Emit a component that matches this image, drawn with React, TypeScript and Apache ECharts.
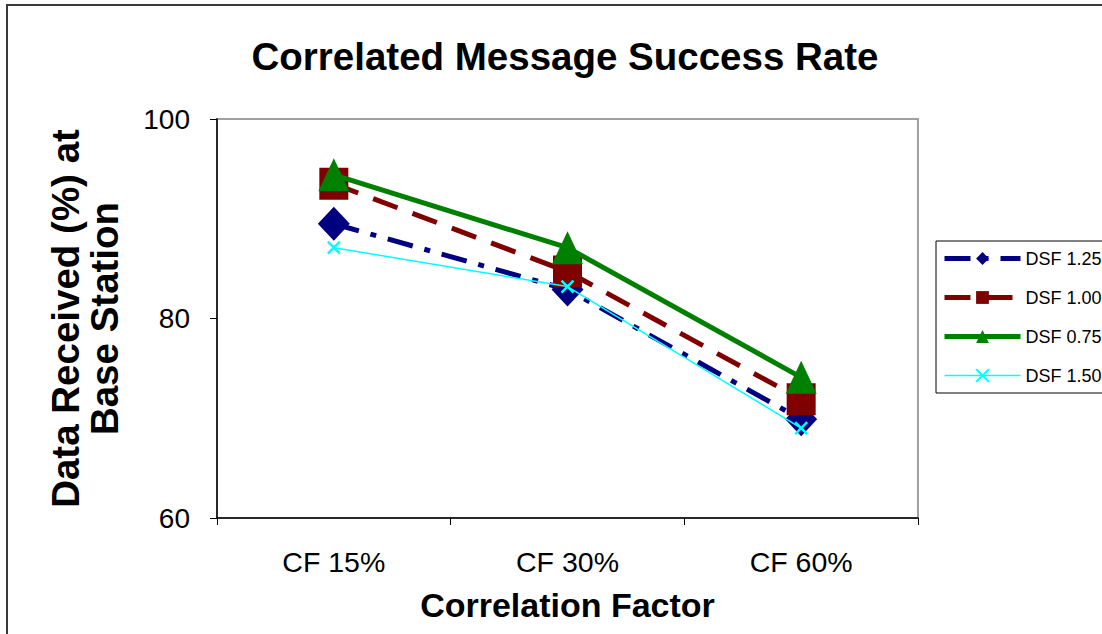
import React, { useEffect, useRef } from "react";
import * as echarts from "echarts";

const categories = ["CF 15%", "CF 30%", "CF 60%"];
const seriesNames = ["DSF 1.25", "DSF 1.00", "DSF 0.75", "DSF 1.50"];
const dsf125 = [89.5, 82.9, 69.9];
const dsf100 = [93.5, 84.7, 71.9];
const dsf075 = [94.4, 87.1, 74.1];
const dsf150 = [87.1, 83.2, 69.0];
const yTicks = { min: 60, max: 100, interval: 20 };

const FONT = "'Liberation Sans', Arial, sans-serif";

export default function App() {
  const ref = useRef<HTMLDivElement>(null);
  useEffect(() => {
    if (!ref.current) return;
    const chart = echarts.init(ref.current, undefined, { renderer: "svg" });
    const crossPath = "path://M0,0L10,10M10,0L0,10";
    const legendWidths = [5, 5, 5, 1.5];
    chart.setOption({
      animation: false,
      backgroundColor: "#ffffff",
      textStyle: { fontFamily: FONT },
      graphic: [
        {
          type: "rect",
          shape: { x: 7, y: 5, width: 1300, height: 800 },
          style: { fill: "none", stroke: "#3a3a3a", lineWidth: 2 },
          silent: true,
          z: -10,
        },
      ],
      title: {
        text: "Correlated Message Success Rate",
        left: 560,
        textAlign: "center",
        top: 32,
        textStyle: { fontSize: 38.5, fontWeight: "bold", color: "#000", fontFamily: FONT },
      },
      legend: {
        orient: "vertical",
        left: 936,
        top: 241,
        padding: [7, 60, 7, 6],
        itemWidth: 76,
        itemHeight: 16,
        itemGap: 18,
        borderColor: "#000",
        borderWidth: 1,
        backgroundColor: "#fff",
        data: seriesNames.map((n, i) => ({ name: n, lineStyle: { width: legendWidths[i] } })),
        textStyle: { fontSize: 18, color: "#000", lineHeight: 21, fontFamily: FONT },
      },
      grid: {
        left: 217,
        right: 184,
        top: 119,
        bottom: 116,
        show: true,
        borderColor: "#a0a0a0",
        borderWidth: 2,
        backgroundColor: "transparent",
      },
      xAxis: {
        type: "category",
        data: categories,
        boundaryGap: true,
        name: "Correlation Factor",
        nameLocation: "middle",
        nameGap: 70,
        nameTextStyle: { fontSize: 34, fontWeight: "bold", color: "#000", fontFamily: FONT },
        axisLine: { lineStyle: { color: "#000", width: 1.5 } },
        axisTick: { show: true, length: 7, alignWithLabel: false, lineStyle: { color: "#000" } },
        axisLabel: { fontSize: 28.5, color: "#000", margin: 29, fontFamily: FONT },
      },
      yAxis: {
        type: "value",
        min: yTicks.min,
        max: yTicks.max,
        interval: yTicks.interval,
        name: "Data Received (%) at\nBase Station",
        nameLocation: "middle",
        nameGap: 93,
        nameTextStyle: { fontSize: 38.5, fontWeight: "bold", color: "#000", lineHeight: 39, fontFamily: FONT },
        axisLine: { show: true, lineStyle: { color: "#000", width: 1.5 } },
        axisTick: { show: true, length: 7, lineStyle: { color: "#000" } },
        splitLine: { show: false },
        axisLabel: { fontSize: 28, color: "#000", margin: 27, fontFamily: FONT },
      },
      series: [
        {
          name: seriesNames[0],
          type: "line",
          data: dsf125,
          symbol: "diamond",
          symbolSize: [32, 34],
          itemStyle: { color: "#000080" },
          lineStyle: { color: "#000080", width: 5, type: [26, 12, 6, 12] },
          z: 2,
        },
        {
          name: seriesNames[1],
          type: "line",
          data: dsf100,
          symbol: "rect",
          symbolSize: [29, 32],
          itemStyle: { color: "#800000" },
          lineStyle: { color: "#800000", width: 5, type: [26, 16] },
          z: 3,
        },
        {
          name: seriesNames[2],
          type: "line",
          data: dsf075,
          symbol: "triangle",
          symbolSize: [31, 33],
          itemStyle: { color: "#008000" },
          lineStyle: { color: "#008000", width: 5 },
          z: 4,
        },
        {
          name: seriesNames[3],
          type: "line",
          data: dsf150,
          symbol: crossPath,
          symbolSize: 12,
          itemStyle: { color: "#00ffff", borderColor: "#00ffff", borderWidth: 2.5 },
          lineStyle: { color: "#00ffff", width: 1.5 },
          z: 5,
        },
      ],
    });
    return () => chart.dispose();
  }, []);
  return (
    <div
      ref={ref}
      style={{ position: "fixed", left: 0, top: 0, width: 1102, height: 634, background: "#fff" }}
    />
  );
}
